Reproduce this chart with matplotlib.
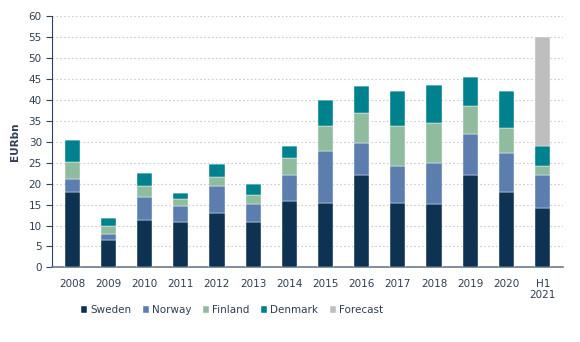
import numpy as np
import matplotlib
matplotlib.use("Agg")
import matplotlib.pyplot as plt

# Categories and stacked values (EURbn).
categories = ["2008", "2009", "2010", "2011", "2012", "2013", "2014",
              "2015", "2016", "2017", "2018", "2019", "2020", "H1\n2021"]
sweden = [18.0, 6.5, 11.4, 10.8, 13.0, 10.8, 15.9, 15.4, 22.1, 15.4, 15.2, 22.1, 18.0, 14.3]
norway = [3.1, 1.5, 5.5, 3.9, 6.5, 4.4, 6.2, 12.4, 7.5, 8.7, 9.7, 9.7, 9.4, 7.8]
finland = [4.0, 1.8, 2.5, 1.7, 2.1, 2.0, 4.0, 5.9, 7.3, 9.7, 9.6, 6.7, 6.0, 2.2]
denmark = [5.4, 2.0, 3.1, 1.4, 3.1, 2.8, 2.9, 6.3, 6.4, 8.3, 9.1, 6.9, 8.7, 4.7]
forecast = [0, 0, 0, 0, 0, 0, 0, 0, 0, 0, 0, 0, 0, 26.0]

series = [
    ("Sweden", sweden, "#0e3251"),
    ("Norway", norway, "#5b7eae"),
    ("Finland", finland, "#8fbb9f"),
    ("Denmark", denmark, "#00828e"),
    ("Forecast", forecast, "#bebebe"),
]

text_color = "#2f3e52"
axis_color = "#2b4560"

fig = plt.figure(figsize=(5.8, 3.42), dpi=100)
ax = fig.add_axes([0.09, 0.218, 0.88, 0.735])

x = np.arange(len(categories))
bottom = np.zeros(len(categories))
for name, vals, color in series:
    vals = np.array(vals, dtype=float)
    ax.bar(x, vals, width=0.42, bottom=bottom, color=color, label=name,
           edgecolor="white", linewidth=0.3, zorder=3)
    bottom += vals

ax.set_xlim(-0.55, len(categories) - 0.45)
ax.set_ylim(0, 60)
ax.set_yticks(np.arange(0, 61, 5))
ax.set_xticks(x)
ax.set_xticklabels(categories)

ax.yaxis.grid(True, linestyle=(0, (1.5, 2)), color="#c8ccd2", linewidth=0.8, zorder=0)
ax.set_axisbelow(True)

for side in ["top", "right"]:
    ax.spines[side].set_visible(False)
ax.spines["left"].set_color(axis_color)
ax.spines["bottom"].set_color("#6b7b8c")
ax.spines["bottom"].set_linewidth(1.2)

ax.tick_params(axis="y", colors=axis_color, labelcolor=text_color, labelsize=7.5,
               length=4, direction="out")
ax.tick_params(axis="x", length=0, labelcolor=text_color, labelsize=7.5, pad=8)

ax.set_ylabel("EURbn", fontsize=7.5, fontweight="bold", color=text_color, labelpad=6)

fig.legend(loc="upper center", bbox_to_anchor=(232 / 580, 0.135), ncol=5, frameon=False,
           fontsize=7.5, handlelength=0.6, handleheight=0.6, handletextpad=0.3,
           columnspacing=1.1, labelcolor=text_color)

fig.savefig("out.png", dpi=100)
plt.close(fig)
